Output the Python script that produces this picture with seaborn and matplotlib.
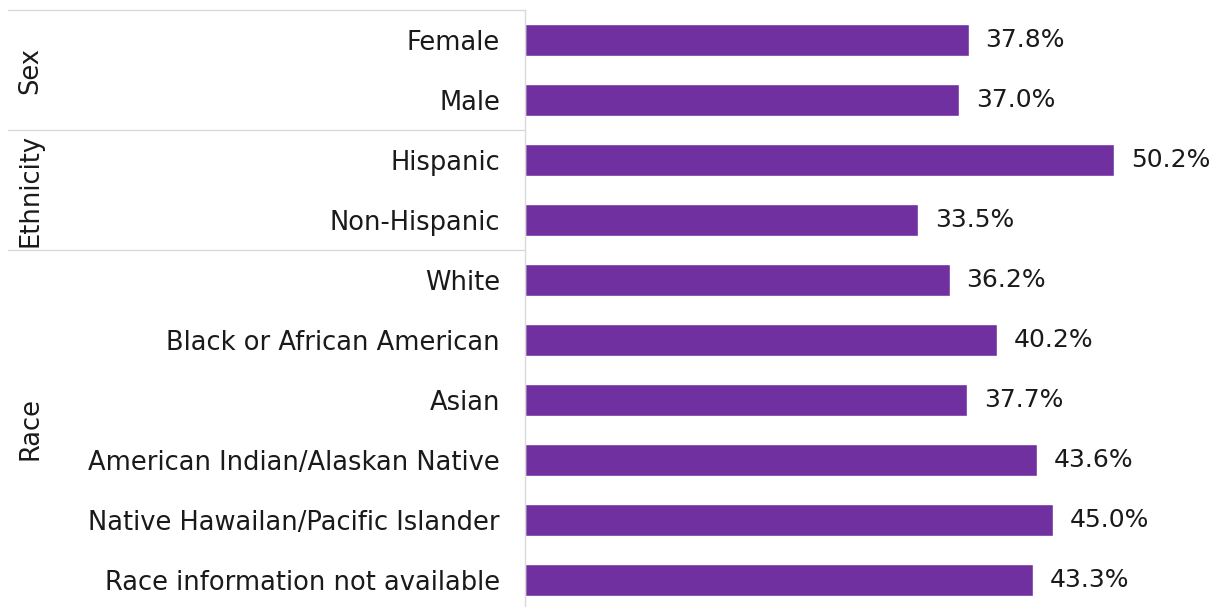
import pandas as pd
import seaborn as sns
import matplotlib.pyplot as plt
import matplotlib.transforms as mtransforms

categories = ["Female", "Male", "Hispanic", "Non-Hispanic", "White",
              "Black or African American", "Asian",
              "American Indian/Alaskan Native",
              "Native Hawailan/Pacific Islander",
              "Race information not available"]
values = [37.8, 37.0, 50.2, 33.5, 36.2, 40.2, 37.7, 43.6, 45.0, 43.3]
groups = ["Sex", "Ethnicity", "Race"]
group_bounds = [(-0.5, 1.5), (1.5, 3.5), (3.5, 9.5)]

df = pd.DataFrame({"Category": categories, "Percent": values})

sns.set_theme(style="white")
plt.rcParams["font.family"] = ["DejaVu Sans"]

fig = plt.figure(figsize=(12.21, 6.07), dpi=100)
ax = fig.add_axes([525 / 1221, 0.0, 696 / 1221, 597 / 607])

sns.barplot(data=df, y="Category", x="Percent", orient="h",
            color="#7030A0", width=0.52, saturation=1, ax=ax)

ax.set_xlim(0, 59.3)
ax.set_ylim(9.45, -0.5)
ax.set_xlabel("")
ax.set_ylabel("")
ax.set_xticks([])
ax.tick_params(axis="y", length=0, pad=18, labelsize=18.5, labelcolor="#1a1a1a")

for s in ["top", "right", "bottom"]:
    ax.spines[s].set_visible(False)
ax.spines["left"].set_color("#d9d9d9")
ax.spines["left"].set_linewidth(1)

ax.bar_label(ax.containers[0], labels=[f"{v:.1f}%" for v in values],
             padding=12, fontsize=18, color="#1a1a1a")

trans = mtransforms.blended_transform_factory(ax.transAxes, ax.transData)
x_left = (8 - 525) / 696
x_text = (30 - 525) / 696
for name, (lo, hi) in zip(groups, group_bounds):
    ax.plot([x_left, 0], [lo, lo], transform=trans, color="#d9d9d9",
            lw=1, clip_on=False)
    ax.text(x_text, (lo + min(hi, 9.45)) / 2, name, transform=trans,
            rotation=90, ha="center", va="center", fontsize=18.5,
            color="#1a1a1a")

fig.savefig("out.png", dpi=100)
